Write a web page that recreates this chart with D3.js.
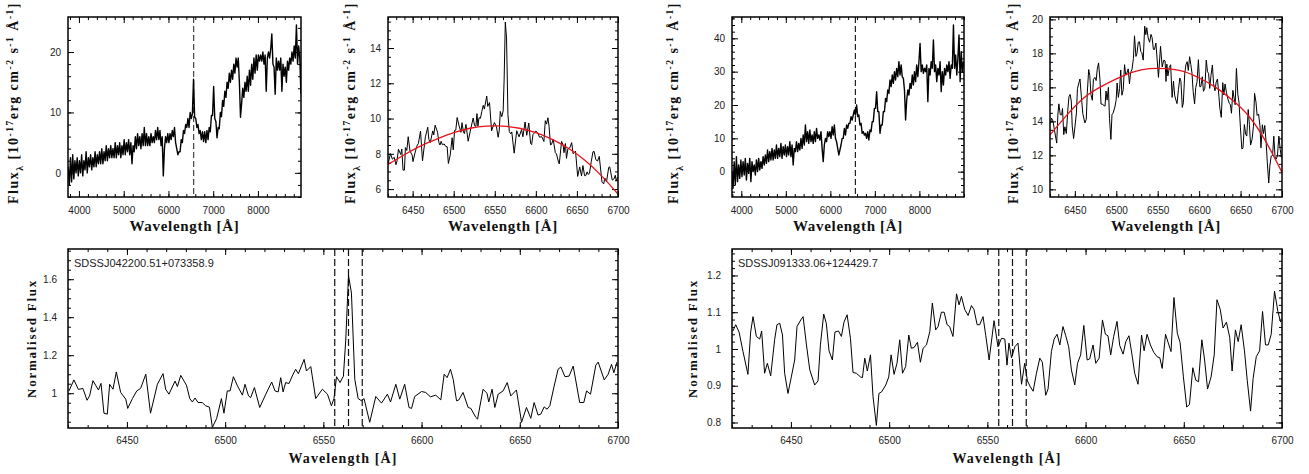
<!DOCTYPE html>
<html>
<head>
<meta charset="utf-8">
<script src="https://cdn.jsdelivr.net/npm/d3@7"></script>
<style>
  body { margin: 0; background: #fff; }
  .title { font-family: "Liberation Serif", "Times New Roman", serif; font-weight: bold; fill: #111; }
</style>
</head>
<body>
<svg width="1309" height="474"></svg>
<script>
const svg = d3.select('svg');

// ---------- data ----------
const wideStep = 25;

// SDSSJ042200.51+073358.9, full spectrum, one value every 25 A from 3760 A
const wideStart1 = 3760;
const wideFlux1 = [
  1, -2, 2.5, -1.5, 3, -1, 2, 0, 2.5, -0.5,
  2, 0, 3, -0.5, 2, 0.5, 3.5, 0, 2.5, 1,
  3, 0.5, 2.5, 1, 3.5, 1, 3, 1.5, 3.5, 1.5,
  4, 1.5, 3.5, 2, 4.5, 2, 4, 2.5, 4.5, 2.5,
  4, 2.5, 5, 2.5, 4.5, 3, 5, 2.5, 4.5, 3,
  5.5, 3, 5, 3.5, 5.5, 3, 5, 1.5, 4.5, 3.5,
  6, 4, 6.5, 4.5, 6, 4, 6.5, 4.5, 7.5, 4.5,
  6.5, 4.5, 6, 4.5, 6.5, 5, 6, 5, 7, 5.5,
  7.5, 5.5, 7, 4.5, 6, -0.5, 4, 6, 5, 6.5,
  5, 6.5, 5.5, 7, 6, 7.5, 5, 4, 3, 3.5,
  3.5, 5.5, 5, 7, 6.5, 8, 7.5, 9, 7.5, 10,
  9, 9.8, 15.5, 9.2, 9, 7.5, 8, 6.5, 7, 5.5,
  6.8, 5.2, 6.8, 5, 7, 5.5, 7.5, 6.8, 9.5, 9.5,
  14.3, 9, 8.5, 5.8, 7.5, 7.3, 10, 9.3, 12, 11,
  13.5, 12.5, 15, 14, 16.5, 15, 17, 15.5, 18, 16.5,
  19, 17.5, 19, 15, 9.2, 11.5, 14, 12.5, 15, 13.5,
  16, 13.5, 17, 14.5, 18, 15.5, 19, 16.5, 19.5, 17,
  19.5, 18.5, 19.5, 18.5, 20, 18, 19.5, 13.5, 19, 20,
  19, 20.5, 23, 18, 17.5, 13, 19, 17, 18.5, 17,
  19, 13.5, 18, 16, 17.5, 15, 18.5, 17, 19, 18,
  20, 18.5, 21, 19, 24.5, 18, 21, 19, 13
];

// SDSSJ091333.06+124429.7, full spectrum, one value every 25 A from 3790 A
const wideStart2 = 3790;
const wideFlux2 = [
  0, -5, 3, -4, 4.5, -3, 2, -2, 3.5, -1.5,
  3, -1, 4, -2.5, 2.5, -0.5, 4, -3, 3, 0,
  2, -1, 3.5, 0, 4, 0.5, 3, 1, 4.5, 2,
  5, 2.5, 6.5, 3, 6, 3.5, 7, 3.5, 6.5, 4,
  8, 4, 7, 4.5, 8.5, 4, 7.5, 5, 8, 4.5,
  7.5, 5, 9, 4.5, 8, 2, 7, 6, 9, 6,
  8.5, 6.5, 10, 7, 11, 8, 14, 9, 12, 8.5,
  12.5, 9, 11, 8.5, 12, 9, 13, 10, 11, 9.5,
  12, 7, 3, 8, 10, 9, 12, 10.5, 12, 10,
  13.5, 11, 14, 10, 9, 7, 5, 6.5, 8, 10,
  10, 13, 11, 14, 13, 14.5, 14.5, 16.5, 15.5, 17,
  18.5, 17, 20, 16.5, 17, 14, 14.5, 11.5, 12, 11,
  11.5, 10, 12, 9.5, 12.5, 12, 15, 15, 19, 19,
  24, 18, 18, 11.5, 14, 14, 18, 18, 22, 21,
  24.5, 23.5, 27.5, 25.5, 29, 26.5, 30, 27.5, 31, 28.5,
  33, 29, 32, 28.5, 28, 24.5, 15.5, 21.5, 24.5, 23,
  26.5, 25, 29, 26, 30, 27, 32, 28.5, 33, 38.5,
  30, 32, 29.5, 31, 30, 32, 21, 31, 29, 33,
  31, 39.5, 30, 32, 27, 31, 29, 33, 24, 30,
  26, 31, 29, 32, 30, 33, 28, 32, 31, 44,
  31, 35, 29, 34, 41, 27, 36, 30, 33
];

// red continuum fits around H-alpha
const fitWave = [6420, 6440, 6460, 6480, 6500, 6520, 6540, 6560, 6580, 6600, 6620, 6640, 6660, 6680, 6700];
const fitFlux1 = [7.4, 7.95, 8.45, 8.85, 9.2, 9.45, 9.57, 9.57, 9.45, 9.2, 8.82, 8.3, 7.62, 6.75, 5.72];
const fitFlux2 = [13.2, 14.35, 15.35, 16.0, 16.5, 16.9, 17.1, 17.1, 16.95, 16.55, 16.0, 15.25, 14.3, 12.85, 11.0];

// normalised flux around H-alpha (flux / continuum)
const zoomWave1 = [
  6420.5, 6423, 6425.3, 6427.6, 6429.7, 6431, 6432.7, 6435.5, 6436.8, 6438.3,
  6440, 6441.2, 6442.9, 6444.6, 6446.8, 6449.4, 6450.4, 6452.8, 6455, 6457,
  6459.6, 6462, 6465.5, 6468.4, 6469.7, 6471.4, 6474.5, 6475.7, 6477.4, 6480.3,
  6482, 6483.3, 6484.7, 6486.2, 6488.4, 6490, 6492, 6493.5, 6495.7, 6498.1,
  6499.4, 6501.1, 6502.5, 6504.2, 6506.3, 6508.8, 6510.1, 6511.9, 6513, 6514.9,
  6517.6, 6520.7, 6523.7, 6525.4, 6527, 6528.3, 6529.5, 6530.8, 6532.5, 6534.2,
  6535.9, 6537.3, 6540.2, 6541.4, 6543.6, 6546.1, 6549.5, 6552.1, 6554.1, 6555.4,
  6556.7, 6558.5, 6560.2, 6561.4, 6562.8, 6564.3, 6566, 6567.7, 6569.4, 6570.7,
  6573.6, 6576.7, 6579.6, 6582.6, 6584.2, 6586.9, 6588.9, 6591.4, 6593.6, 6594.9,
  6596.5, 6600, 6602.1, 6604.5, 6607.2, 6609.8, 6611.5, 6613, 6614.7, 6616.1,
  6617.8, 6619, 6621.1, 6623.7, 6625.1, 6627.6, 6628.5, 6631.3, 6633.3, 6634.2,
  6635.9, 6637.3, 6639, 6641.5, 6643.6, 6645.4, 6648.3, 6650.9, 6653.4, 6655.6,
  6657.3, 6659.3, 6660.7, 6662.4, 6663.9, 6665.3, 6667.5, 6669.5, 6670.9, 6673,
  6675.1, 6677.2, 6680.5, 6682.6, 6684, 6686, 6688.7, 6689.9, 6693, 6695,
  6696.7, 6697.9, 6699.5
];
const normFlux1 = [
  1.012, 1.07, 1.02, 1.025, 0.963, 0.986, 1.066, 1.017, 1.052, 0.895,
  0.89, 1.047, 1.021, 1.112, 1.004, 0.969, 0.92, 0.972, 1.012, 1.026,
  1.1, 0.895, 1.047, 1.103, 1.021, 0.995, 1.064, 1.035, 1.094, 1.042,
  0.972, 0.954, 0.975, 0.951, 0.951, 0.934, 0.927, 0.82, 0.868, 0.972,
  0.895, 1.012, 1.012, 1.087, 1.038, 0.99, 1.047, 0.986, 0.977, 1.03,
  0.925, 0.995, 1.059, 1.012, 1.007, 1.082, 1.007, 1.056, 1.051, 1.091,
  1.126, 1.103, 1.178, 1.117, 1.14, 0.972, 1.021, 0.995, 0.934, 0.972,
  1.087, 1.056, 1.09, 1.28, 1.62, 1.527, 1.073, 0.972, 0.96, 0.972,
  0.847, 0.983, 0.948, 0.995, 0.954, 1.047, 0.969, 1.047, 0.925, 0.92,
  0.983, 1.009, 1.004, 0.981, 0.99, 0.965, 1.1, 1.082, 1.126, 1.073,
  0.96, 0.965, 1.004, 0.925, 0.92, 0.873, 0.864, 1.021, 1.0, 0.954,
  1.021, 0.925, 0.995, 1.012, 1.056, 0.986, 1.017, 0.847, 0.925, 0.868,
  0.951, 0.885, 0.89, 0.928, 0.916, 0.934, 1.038, 1.126, 1.138, 1.087,
  1.09, 1.143, 0.951, 0.951, 1.012, 0.995, 1.147, 1.164, 1.07, 1.1,
  1.152, 1.108, 1.164
];

const zoomWave2 = [
  6420.5, 6421.9, 6423.6, 6425.6, 6428.1, 6429.5, 6430.7, 6432.4, 6434.1, 6435.1,
  6436.6, 6438, 6439.7, 6441.7, 6442.9, 6444.3, 6445.7, 6446.8, 6448.5, 6450.2,
  6451.9, 6453.1, 6455, 6456.2, 6457.9, 6459.6, 6462.1, 6463.8, 6465, 6466.7,
  6468, 6469.4, 6471.1, 6472.4, 6474.2, 6475.7, 6477, 6478.6, 6480.3, 6481.6,
  6483.3, 6485.4, 6486.4, 6487.6, 6488.9, 6490.5, 6491.8, 6493.5, 6494.8, 6496.1,
  6498.3, 6499.8, 6501, 6502.5, 6504, 6505.4, 6506.8, 6508.4, 6510, 6511.3,
  6512.7, 6514.4, 6515.9, 6517.3, 6519, 6520.7, 6522, 6523.7, 6524.9, 6526.6,
  6528, 6529.5, 6530.8, 6532.5, 6534.3, 6535.6, 6536.8, 6538.5, 6540.2, 6541.9,
  6543.2, 6544.8, 6546.1, 6547.8, 6549.2, 6550.9, 6553.4, 6555.4, 6557.2, 6558.9,
  6560, 6561, 6562.3, 6564, 6565.6, 6567.4, 6569, 6570.4, 6571.9, 6573.3,
  6575, 6576.7, 6578, 6579.7, 6580.9, 6582.6, 6584, 6585.5, 6586.9, 6588.5,
  6589.9, 6591.4, 6592.8, 6594.5, 6595.9, 6597.5, 6599.1, 6600.8, 6602.1, 6603.8,
  6605.2, 6606.9, 6608.6, 6610.1, 6611.4, 6612.8, 6614.3, 6616, 6617.4, 6619.1,
  6620.5, 6622.1, 6623.9, 6625, 6626.7, 6628.5, 6629.8, 6631.3, 6633, 6634.7,
  6636.4, 6637.8, 6639, 6640.7, 6642, 6643.5, 6645, 6646.7, 6648.1, 6649.8,
  6651.5, 6652.9, 6654.6, 6656.1, 6657.5, 6659.2, 6660.6, 6662.1, 6663.9, 6665.5,
  6666.9, 6668.6, 6670, 6671.7, 6673.4, 6674.6, 6676.3, 6677.7, 6679.2, 6680.9,
  6682.3, 6684, 6685.3, 6686.9, 6688.6, 6690.1, 6691.6, 6693, 6694.5, 6696.2,
  6697.9, 6699.3
];
const normFlux2 = [
  1.049, 1.066, 1.046, 0.993, 0.931, 1.046, 1.088, 1.034, 1.027, 1.049,
  0.934, 0.961, 0.927, 1.025, 1.066, 1.07, 1.038, 0.934, 0.879, 0.924,
  0.97, 1.061, 1.079, 1.088, 1.011, 0.943, 0.902, 0.913, 1.011, 1.095,
  1.07, 0.995, 0.97, 1.046, 1.049, 1.034, 1.073, 1.093, 1.029, 0.936,
  0.934, 0.924, 0.922, 0.975, 0.94, 0.984, 0.87, 0.792, 0.879, 0.883,
  0.902, 0.924, 0.984, 0.931, 0.961, 1.025, 0.934, 0.952, 1.038, 1.002,
  1.004, 1.018, 0.964, 1.002, 1.011, 1.047, 1.125, 1.052, 1.061, 1.1,
  1.1, 1.066, 1.061, 1.034, 1.15, 1.12, 1.143, 1.107, 1.091, 1.118,
  1.107, 1.066, 1.066, 1.088, 1.036, 0.97, 1.077, 1.006, 1.029, 1.027,
  0.956, 1.016, 0.976, 1.006, 1.016, 0.904, 0.961, 0.913, 0.897, 0.885,
  0.934, 0.975, 0.964, 0.874, 0.891, 0.993, 1.027, 1.04, 1.011, 1.061,
  1.036, 1.006, 0.943, 0.902, 0.961, 0.984, 1.064, 0.97, 0.973, 1.011,
  0.961, 0.975, 1.079, 1.04, 1.036, 0.984, 1.034, 1.075, 1.009, 0.986,
  1.02, 1.036, 0.975, 0.934, 0.904, 1.038, 0.995, 1.04, 1.011, 0.991,
  0.979, 0.976, 0.947, 1.04, 1.018, 0.993, 1.14, 1.043, 1.018, 0.924,
  0.842, 0.849, 0.949, 0.915, 0.911, 1.025, 0.97, 0.891, 0.924, 0.984,
  1.134, 1.107, 1.057, 1.073, 1.031, 0.94, 1.052, 1.02, 1.066, 0.995,
  0.915, 0.831, 0.92, 0.979, 0.995, 1.102, 1.011, 1.011, 1.04, 1.157,
  1.102, 1.073
];

const halpha = 6562.8;
const halphaWindow = [6555.8, 6562.8, 6569.8];
const names = ['SDSSJ042200.51+073358.9', 'SDSSJ091333.06+124429.7'];

// tick labels
const wideTicks = [4000, 5000, 6000, 7000, 8000];
const wideMinor = d3.range(3800, 9001, 200);
const zoomTicks = [6450, 6500, 6550, 6600, 6650, 6700];
const zoomMinor = d3.range(6420, 6701, 10);
const fluxTicks1 = [0, 10, 20];
const fluxTicks2 = [6, 8, 10, 12, 14];
const fluxTicks3 = [0, 10, 20, 30, 40];
const fluxTicks4 = [10, 12, 14, 16, 18, 20];
const normTicks1 = [1, 1.2, 1.4, 1.6];
const normTicks2 = [0.8, 0.9, 1, 1.1, 1.2];

// ---------- drawing ----------
const tickFont = '"Liberation Sans", Arial, sans-serif';
let clipId = 0;

function panel(o) {
  const x = d3.scaleLinear().domain(o.xDomain).range([o.left, o.right]);
  const y = d3.scaleLinear().domain(o.yDomain).range([o.bottom, o.top]);
  const g = svg.append('g');

  const id = 'clip' + (clipId++);
  svg.append('clipPath').attr('id', id).append('rect')
      .attr('x', o.left).attr('y', o.top)
      .attr('width', o.right - o.left).attr('height', o.bottom - o.top);

  const inX = v => v >= o.xDomain[0] && v <= o.xDomain[1];
  const inY = v => v >= o.yDomain[0] && v <= o.yDomain[1];

  const sides = [
    [d3.axisBottom, x, `translate(0,${o.bottom})`, o.xTicks, o.xMinor.filter(inX), o.padX, true],
    [d3.axisTop, x, `translate(0,${o.top})`, o.xTicks, o.xMinor.filter(inX), 0, false],
    [d3.axisLeft, y, `translate(${o.left},0)`, o.yTicks, o.yMinor.filter(inY), o.padY, true],
    [d3.axisRight, y, `translate(${o.right},0)`, o.yTicks, o.yMinor.filter(inY), 0, false]
  ];
  sides.forEach(([axisFn, scale, tr, major, minor, pad, labelled]) => {
    g.append('g').attr('transform', tr)
        .call(axisFn(scale).tickValues(minor).tickSize(-3).tickFormat(''))
        .call(a => a.select('.domain').remove());
    g.append('g').attr('transform', tr)
        .attr('font-family', tickFont).attr('font-size', 11)
        .call(axisFn(scale).tickValues(major).tickSize(-6).tickPadding(pad)
            .tickFormat(labelled ? d3.format('~g') : ''))
        .call(a => a.select('.domain').remove())
        .call(a => a.selectAll('text').attr('fill', '#222'));
  });

  const plot = g.append('g').attr('clip-path', `url(#${id})`);
  const line = d3.line().x(d => x(d[0])).y(d => y(d[1]));

  (o.dashes || []).forEach(w => {
    plot.append('line')
        .attr('x1', x(w)).attr('x2', x(w))
        .attr('y1', o.top).attr('y2', o.bottom)
        .attr('stroke', o.dashColor).attr('stroke-width', 1.2)
        .attr('stroke-dasharray', o.dashArray);
  });

  plot.append('path').datum(o.data)
      .attr('d', line)
      .attr('fill', 'none').attr('stroke', '#000').attr('stroke-width', o.lineWidth || 1)
      .attr('stroke-linejoin', 'round');

  if (o.fit) {
    plot.append('path').datum(o.fit)
        .attr('d', line.curve(d3.curveNatural))
        .attr('fill', 'none').attr('stroke', '#e8121b').attr('stroke-width', 1.3);
  }

  if (o.name) {
    g.append('text')
        .attr('x', o.left + 6).attr('y', o.top + 18)
        .attr('font-family', tickFont).attr('font-size', 11)
        .attr('fill', '#222')
        .text(o.name);
  }

  g.append('rect')
      .attr('x', o.left).attr('y', o.top)
      .attr('width', o.right - o.left).attr('height', o.bottom - o.top)
      .attr('fill', 'none').attr('stroke', '#000').attr('stroke-width', 1.5);
}

// spread the letters so the title covers the measured length
function spreadText(t, len) {
  const w = t.node().getComputedTextLength();
  const n = t.text().length;
  t.attr('letter-spacing', Math.max(0, (len - w) / n));
}

function xTitle(cx, baseline, len, size) {
  const t = svg.append('text').attr('class', 'title')
      .attr('x', cx).attr('y', baseline)
      .attr('text-anchor', 'middle').attr('font-size', size)
      .text('Wavelength [Å]');
  spreadText(t, len);
}

function yTitle(cx, cy, len, size, parts) {
  const t = svg.append('text').attr('class', 'title')
      .attr('transform', `translate(${cx},${cy}) rotate(-90)`)
      .attr('text-anchor', 'middle').attr('dy', '0.33em').attr('font-size', size);
  parts.forEach(p => {
    const s = t.append('tspan').text(p[0]);
    if (p[1]) s.attr('font-size', '0.68em').attr('baseline-shift', p[1]);
  });
  spreadText(t, len);
}

const fluxTitle = [['Flux'], ['λ', 'sub'], [' [10'], ['-17', 'super'], ['erg cm'], ['-2', 'super'],
  [' s'], ['-1', 'super'], [' Å'], ['-1', 'super'], [']']];

const cont1 = d3.scaleLinear().domain(fitWave).range(fitFlux1);
const cont2 = d3.scaleLinear().domain(fitWave).range(fitFlux2);

const wideData1 = wideFlux1.map((f, i) => [wideStart1 + i * wideStep, f]);
const wideData2 = wideFlux2.map((f, i) => [wideStart2 + i * wideStep, f]);
// observed flux = normalised flux times the fitted continuum
const zoomData1 = zoomWave1.map((w, i) => [w, normFlux1[i] * cont1(w)]);
const zoomData2 = zoomWave2.map((w, i) => [w, normFlux2[i] * cont2(w)]);
const normData1 = d3.zip(zoomWave1, normFlux1);
const normData2 = d3.zip(zoomWave2, normFlux2);

const upTop = 17, upBottom = 197, lowTop = 249, lowBottom = 428;

panel({ left: 68, right: 301, top: upTop, bottom: upBottom, xDomain: [3755, 8962], yDomain: [-4, 25.8],
  xTicks: wideTicks, xMinor: wideMinor, yTicks: fluxTicks1, yMinor: d3.range(-4, 26, 2),
  padX: 10, padY: 7, data: wideData1, lineWidth: 1.4, dashes: [halpha], dashColor: '#444', dashArray: '6,3' });

panel({ left: 388, right: 618, top: upTop, bottom: upBottom, xDomain: [6420, 6700], yDomain: [5.55, 15.76],
  xTicks: zoomTicks, xMinor: zoomMinor, yTicks: fluxTicks2, yMinor: d3.range(12, 32).map(v => v / 2),
  padX: 10, padY: 7, data: zoomData1, fit: d3.zip(fitWave, fitFlux1) });

panel({ left: 732, right: 964, top: upTop, bottom: upBottom, xDomain: [3791, 9002], yDomain: [-7.6, 46.4],
  xTicks: wideTicks, xMinor: wideMinor, yTicks: fluxTicks3, yMinor: d3.range(-6, 47, 2),
  padX: 10, padY: 7, data: wideData2, lineWidth: 1.4, dashes: [halpha], dashColor: '#222', dashArray: '6,3' });

panel({ left: 1050, right: 1282, top: upTop, bottom: upBottom, xDomain: [6420, 6700], yDomain: [9.55, 20.14],
  xTicks: zoomTicks, xMinor: zoomMinor, yTicks: fluxTicks4, yMinor: d3.range(20, 41).map(v => v / 2),
  padX: 10, padY: 7, data: zoomData2, fit: d3.zip(fitWave, fitFlux2) });

panel({ left: 68, right: 618, top: lowTop, bottom: lowBottom, xDomain: [6420, 6700], yDomain: [0.817, 1.759],
  xTicks: zoomTicks, xMinor: zoomMinor, yTicks: normTicks1, yMinor: d3.range(17, 36).map(v => v / 20),
  padX: 9, padY: 11, data: normData1, dashes: halphaWindow, dashColor: '#111', dashArray: '7,3',
  name: names[0] });

panel({ left: 732, right: 1282, top: lowTop, bottom: lowBottom, xDomain: [6420, 6700], yDomain: [0.785, 1.272],
  xTicks: zoomTicks, xMinor: zoomMinor, yTicks: normTicks2, yMinor: d3.range(40, 64).map(v => v / 50),
  padX: 9, padY: 11, data: normData2, dashes: halphaWindow, dashColor: '#111', dashArray: '7,3',
  name: names[1] });

// axis titles
xTitle(184.5, 231, 110, 15);
xTitle(503, 231, 110, 15);
xTitle(848, 231, 110, 15);
xTitle(1166, 231, 110, 15);
xTitle(343, 463, 109, 14);
xTitle(1007, 463, 109, 14);

yTitle(13, 103, 202, 14, fluxTitle);
yTitle(350, 103, 202, 14, fluxTitle);
yTitle(673, 103, 202, 14, fluxTitle);
yTitle(1013, 103, 202, 14, fluxTitle);
yTitle(32, 338.5, 119, 13, [['Normalised Flux']]);
yTitle(693, 338.5, 119, 13, [['Normalised Flux']]);
</script>
</body>
</html>
